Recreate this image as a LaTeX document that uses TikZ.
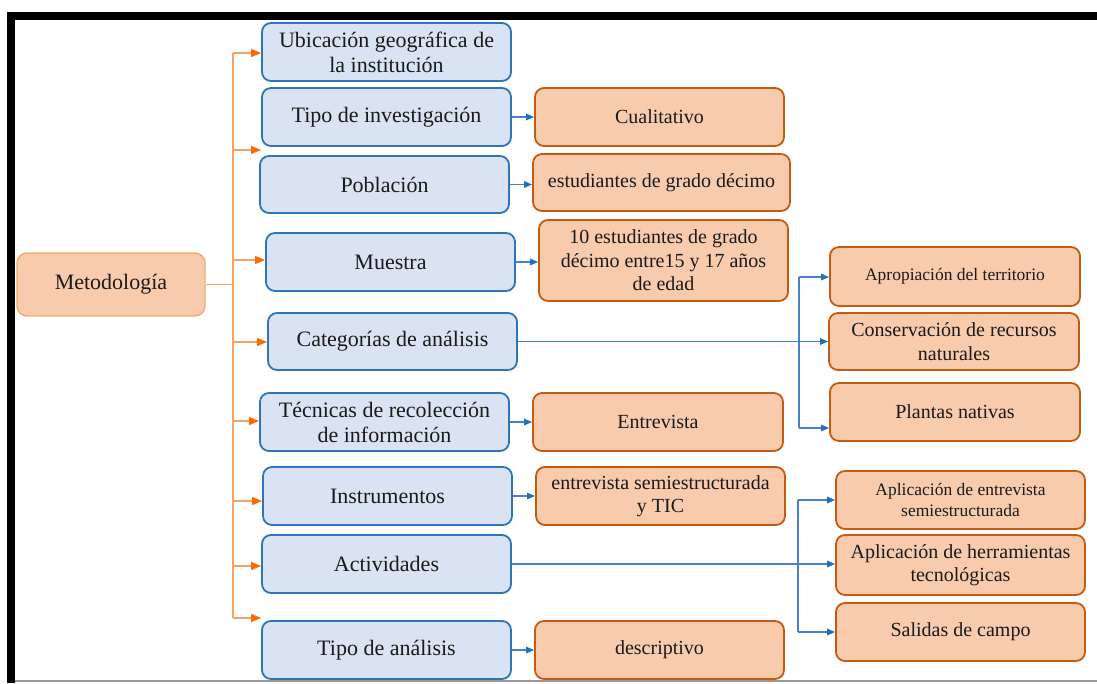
\documentclass[tikz,border=0pt]{standalone}
\usepackage{fontspec}
\setmainfont{Liberation Serif}
\usetikzlibrary{arrows.meta}
\definecolor{bfill}{HTML}{DAE3F3}
\definecolor{bdraw}{HTML}{2E75B6}
\definecolor{ofill}{HTML}{F8CBAD}
\definecolor{odraw}{HTML}{C55A11}
\definecolor{mdraw}{HTML}{F4A96E}
\definecolor{oline}{HTML}{F5A263}
\definecolor{otip}{HTML}{FF6A00}
\definecolor{bline}{HTML}{4A7FCB}
\definecolor{btip}{HTML}{1F6FC5}
\definecolor{txt}{HTML}{1A1A1A}
\begin{document}
\begin{tikzpicture}[x=1pt,y=-1pt,
  box/.style={rounded corners=9pt, line width=1.8pt, align=center, inner sep=0pt, text=txt},
  bluebox/.style={box, fill=bfill, draw=bdraw, minimum width=249pt, minimum height=58pt, font=\fontsize{22}{25}\selectfont},
  orbox/.style={box, fill=ofill, draw=odraw, minimum width=249pt, minimum height=58pt, font=\fontsize{20}{23.5}\selectfont},
  smalltext/.style={font=\fontsize{17.5}{21}\selectfont},
  rootbox/.style={box, fill=ofill, draw=mdraw, line width=1.4pt, rounded corners=10pt, font=\fontsize{22}{25}\selectfont},
  oarr/.style={draw=oline, line width=1.3pt, -{Triangle[length=10pt,width=8pt,color=otip]}},
  oline/.style={draw=oline, line width=1.3pt},
  barr/.style={draw=bline, line width=1.3pt, -{Triangle[length=8pt,width=6.5pt,color=btip]}},
  bln/.style={draw=bline, line width=1.3pt}
]
\useasboundingbox (0,0) rectangle (1097,683);
\fill[white] (0,0) rectangle (1097,683);
% frame
\fill[black] (7,12) rectangle (1097,20);
\fill[black] (7,12) rectangle (15,683);
\draw[black!40, line width=1.5pt] (15,681) -- (1097,681);

% root
\node[rootbox, minimum width=188pt, minimum height=63pt] (meto) at (111,284.5) {Metodología};

% blue column
\node[bluebox] (ubi) at (386.5,52) {Ubicación geográfica de\\la institución};
\node[bluebox] (tinv) at (386.5,117) {Tipo de investigación};
\node[bluebox, minimum height=57pt] (pob) at (384.5,184.5) {Población};
\node[bluebox] (mue) at (390.5,262) {Muestra};
\node[bluebox, minimum height=57pt] (cat) at (392.5,341.5) {Categorías de análisis};
\node[bluebox] (tec) at (384.5,422) {Técnicas de recolección\\de información};
\node[bluebox] (ins) at (387.5,496) {Instrumentos};
\node[bluebox] (act) at (386.5,564) {Actividades};
\node[bluebox] (tan) at (386.5,650) {Tipo de análisis};

% orange second column
\node[orbox] (cual) at (659.5,117) {Cualitativo};
\node[orbox, minimum width=257pt, minimum height=57pt] (est) at (661.5,182.5) {estudiantes de grado décimo};
\node[orbox, minimum height=81pt] (diez) at (663.5,260.5) {10 estudiantes de grado\\décimo entre15 y 17 años\\de edad};
\node[orbox, minimum width=250pt] (entr) at (658,422) {Entrevista};
\node[orbox] (esemi) at (660.5,496) {entrevista semiestructurada\\y TIC};
\node[orbox] (desc) at (659.5,650) {descriptivo};

% right column
\node[orbox, smalltext, minimum width=250pt, minimum height=59pt] (apro) at (955,276.5) {Apropiación del territorio};
\node[orbox, minimum width=250pt, minimum height=57pt] (cons) at (954,341.5) {Conservación de recursos\\naturales};
\node[orbox, minimum width=250pt] (plan) at (955,412) {Plantas nativas};
\node[orbox, smalltext] (apent) at (960.5,500) {Aplicación de entrevista\\semiestructurada};
\node[orbox, minimum height=60pt] (apher) at (960.5,565) {Aplicación de herramientas\\tecnológicas};
\node[orbox] (sal) at (960.5,632) {Salidas de campo};

% orange trunk
\coordinate (tTop) at (233,53);
\coordinate (tBot) at (233,618);
\coordinate (t2) at (233,150);
\coordinate (t3) at (233,260);
\coordinate (t4) at (233,342);
\coordinate (t5) at (233,421);
\coordinate (t6) at (233,501);
\coordinate (t7) at (233,566);
\draw[oline] (tTop) -- (tBot);
\draw[oline] (meto.east) -- (meto.east -| tTop);
\draw[oarr] (tTop) -- (tTop -| ubi.west);
\draw[oarr] (t2) -- (t2 -| tinv.west);
\draw[oarr] (t3) -- (t3 -| mue.west);
\draw[oarr] (t4) -- (t4 -| cat.west);
\draw[oarr] (t5) -- (t5 -| tec.west);
\draw[oarr] (t6) -- (t6 -| ins.west);
\draw[oarr] (t7) -- (t7 -| act.west);
\draw[oarr] (tBot) -- (tBot -| tan.west);

% blue short arrows
\draw[barr] (tinv.east) -- (tinv.east -| cual.west);
\draw[barr] (pob.east) -- (pob.east -| est.west);
\draw[barr] (mue.east) -- (mue.east -| diez.west);
\draw[barr] (tec.east) -- (tec.east -| entr.west);
\draw[barr] (ins.east) -- (ins.east -| esemi.west);
\draw[barr] (tan.east) -- (tan.east -| desc.west);

% categorias branch
\coordinate (cb) at (799,341.5);
\coordinate (cbTop) at (799,277);
\coordinate (cbBot) at (799,428);
\draw[bln] (cat.east) -- (cb);
\draw[bln] (cbTop) -- (cbBot);
\draw[barr] (cbTop) -- (cbTop -| apro.west);
\draw[barr] (cb) -- (cb -| cons.west);
\draw[barr] (cbBot) -- (cbBot -| plan.west);

% actividades branch
\coordinate (abTop) at (798,500);
\coordinate (abBot) at (798,632);
\draw[barr] (act.east) -- (act.east -| apher.west);
\draw[bln] (abTop) -- (abBot);
\draw[barr] (abTop) -- (abTop -| apent.west);
\draw[barr] (abBot) -- (abBot -| sal.west);
\end{tikzpicture}
\end{document}
